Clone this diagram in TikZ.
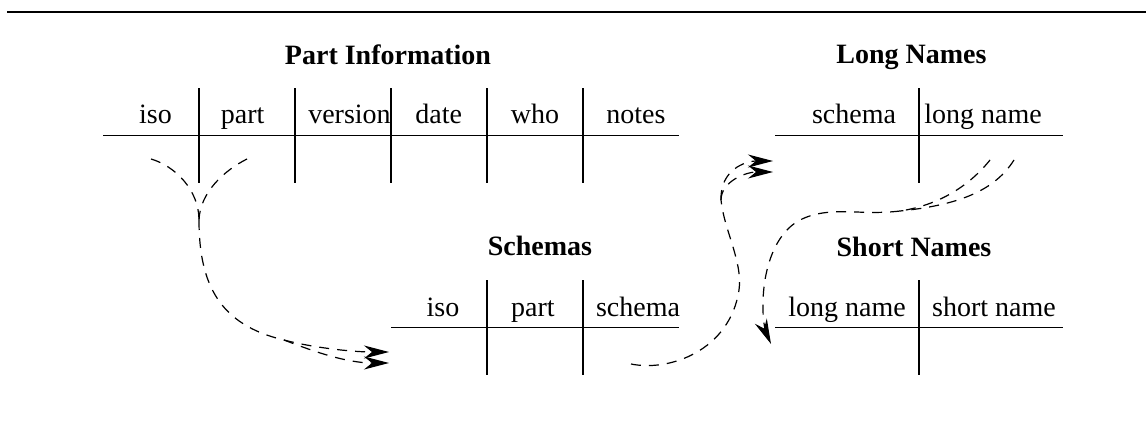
\documentclass[tikz,border=0pt]{standalone}
\usepackage{fontspec}
\setmainfont{Liberation Serif}
\usetikzlibrary{arrows.meta}
\begin{document}
\begin{tikzpicture}[x=1pt,y=-1pt,
  every node/.style={inner sep=0pt},
  hdr/.style={anchor=base,font=\fontsize{28}{34}\selectfont},
  ttl/.style={anchor=base,font=\fontsize{28}{34}\selectfont\bfseries},
  tabline/.style={line width=1.5pt},
  linkline/.style={line width=1.2pt,dash pattern=on 10pt off 8pt},
  linkarrow/.style={linkline,-{Stealth[length=25pt,width=13pt,inset=8pt]}}]
\useasboundingbox (0,0) rectangle (1146,434);
% top rule
\draw[line width=2.4pt] (7,12) -- (1146,12);

% ---------- Part Information ----------
\node[ttl] (pit) at (388,64) {Part Information};
\node[hdr] (pi1) at (155.5,123.3) {iso};
\node[hdr] (pi2) at (242.6,123.3) {part};
\node[hdr] (pi3) at (349.5,123.3) {version};
\node[hdr] (pi4) at (438.7,123.3) {date};
\node[hdr] (pi5) at (535,123.3) {who};
\node[hdr] (pi6) at (636,123.3) {notes};
\draw[tabline] (103,135.5) -- (679,135.5);
\foreach \xx in {199,295,391,487,583} \draw[tabline] (\xx,88) -- (\xx,183);

% ---------- Long Names ----------
\node[ttl] (lnt) at (911.5,63) {Long Names};
\node[hdr] (ln1) at (854,123.3) {schema};
\node[hdr] (ln2) at (983,123.3) {long name};
\draw[tabline] (775,135.5) -- (1063,135.5);
\draw[tabline] (919,88) -- (919,183);

% ---------- Schemas ----------
\node[ttl] (sct) at (540,255.7) {Schemas};
\node[hdr] (sc1) at (443,316.7) {iso};
\node[hdr] (sc2) at (533,316.7) {part};
\node[hdr] (sc3) at (638,316.7) {schema};
\draw[tabline] (391,327.5) -- (679,327.5);
\foreach \xx in {487,583} \draw[tabline] (\xx,280) -- (\xx,375);

% ---------- Short Names ----------
\node[ttl] (snt) at (914,256) {Short Names};
\node[hdr] (sn1) at (847,316) {long name};
\node[hdr] (sn2) at (994,316) {short name};
\draw[tabline] (775,327.5) -- (1063,327.5);
\draw[tabline] (919,280) -- (919,375);

% ---------- connector end points and junctions ----------
\coordinate (piIso) at (151,159);
\coordinate (piPart) at (247,159);
\coordinate (jA1) at (199,220);
\coordinate (jA2) at (284,340);
\coordinate (scIsoA) at (389,352);
\coordinate (scIsoB) at (389,363);
\coordinate (scSchema) at (631,364);
\coordinate (jC) at (721,200);
\coordinate (lnSchemaA) at (773,161);
\coordinate (lnSchemaB) at (773,172);
\coordinate (lnLongA) at (1014,160);
\coordinate (lnLongB) at (990,160);
\coordinate (jD) at (900,211);
\coordinate (snLong) at (771,344);

% Part Information -> Schemas
\draw[linkline] (piIso) .. controls (175,166) and (199,190) .. (jA1);
\draw[linkline] (piPart) .. controls (225,170) and (200,192) .. (jA1);
\draw[linkline] (jA1) .. controls (199,285) and (220,325) .. (jA2);
\draw[linkarrow] (jA2) .. controls (310,347) and (350,352) .. (scIsoA);
\draw[linkarrow] (jA2) .. controls (310,350) and (345,363) .. (scIsoB);

% Schemas -> Long Names
\draw[linkline] (scSchema) .. controls (670,372) and (730,350) .. (739,290)
  .. controls (743,262) and (724,230) .. (jC);
\draw[linkarrow] (jC) .. controls (720,170) and (745,161) .. (lnSchemaA);
\draw[linkarrow] (jC) .. controls (721,182) and (745,172) .. (lnSchemaB);

% Long Names -> Short Names
\draw[linkline] (lnLongA) .. controls (995,190) and (960,205) .. (jD);
\draw[linkline] (lnLongB) .. controls (970,185) and (940,205) .. (jD);
\draw[linkarrow] (jD) .. controls (860,216) and (830,205) .. (800,220)
  .. controls (775,233) and (762,270) .. (763,310)
  .. controls (763,325) and (767,335) .. (snLong);
\end{tikzpicture}
\end{document}
